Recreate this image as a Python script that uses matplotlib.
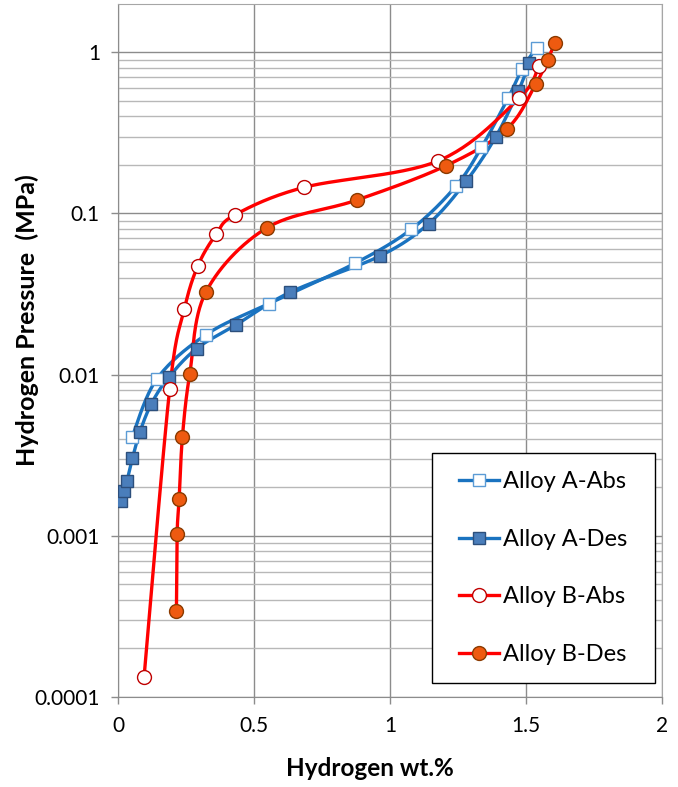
import numpy as np
import matplotlib
matplotlib.use("Agg")
import matplotlib.pyplot as plt
from matplotlib.patches import Rectangle
from matplotlib.ticker import LogLocator, FixedLocator, NullFormatter, FixedFormatter

plt.rcParams['font.family'] = ['Lato', 'DejaVu Sans']

# ---- data ----
a_abs_x = [0.052, 0.143, 0.324, 0.555, 0.871, 1.079, 1.242, 1.337, 1.435, 1.487, 1.540]
a_abs_y = [0.0041, 0.0094, 0.0177, 0.0276, 0.049, 0.0798, 0.147, 0.257, 0.52, 0.79, 1.07]

a_des_x = [0.010, 0.021, 0.033, 0.053, 0.080, 0.123, 0.186, 0.289, 0.433, 0.634, 0.963, 1.143, 1.280, 1.389, 1.473, 1.513]
a_des_y = [0.00165, 0.00191, 0.00219, 0.00302, 0.00438, 0.0066, 0.0096, 0.0145, 0.0203, 0.0325, 0.0544, 0.0865, 0.158, 0.298, 0.578, 0.86]

b_abs_x = [0.096, 0.190, 0.244, 0.294, 0.361, 0.430, 0.683, 1.178, 1.476, 1.548]
b_abs_y = [0.000133, 0.0081, 0.0254, 0.0474, 0.0742, 0.098, 0.145, 0.212, 0.52, 0.82]

b_des_x = [0.215, 0.2175, 0.225, 0.237, 0.264, 0.324, 0.547, 0.878, 1.207, 1.430, 1.537, 1.581, 1.607]
b_des_y = [0.00034, 0.00102, 0.0017, 0.0041, 0.0101, 0.0327, 0.0813, 0.121, 0.198, 0.334, 0.638, 0.90, 1.15]

labels = ["Alloy A-Abs", "Alloy A-Des", "Alloy B-Abs", "Alloy B-Des"]
x_ticks = [0, 0.5, 1, 1.5, 2]
x_tick_labels = ["0", "0.5", "1", "1.5", "2"]
y_ticks = [0.0001, 0.001, 0.01, 0.1, 1]
y_tick_labels = ["0.0001", "0.001", "0.01", "0.1", "1"]


def smooth(xs, ys, n=30):
    """Excel-style smoothed line (Catmull-Rom Bezier) in (x, log y) space."""
    P = np.column_stack([np.asarray(xs, float), np.log10(np.asarray(ys, float))])
    out = []
    m = len(P)
    for i in range(m - 1):
        p0 = P[i - 1] if i > 0 else P[i]
        p1 = P[i]
        p2 = P[i + 1]
        p3 = P[i + 2] if i + 2 < m else P[i + 1]
        c1 = p1 + (p2 - p0) / 6.0
        c2 = p2 - (p3 - p1) / 6.0
        t = np.linspace(0, 1, n)[:, None]
        seg = ((1 - t) ** 3) * p1 + 3 * ((1 - t) ** 2) * t * c1 + 3 * (1 - t) * t ** 2 * c2 + t ** 3 * p2
        out.append(seg if i == 0 else seg[1:])
    S = np.vstack(out)
    return S[:, 0], 10 ** S[:, 1]


fig = plt.figure(figsize=(6.78, 7.87), dpi=100)
ax = fig.add_axes([0.174, 0.1144, 0.802, 0.8806])
ax.set_yscale('log')
ax.set_xlim(0, 2)
ax.set_ylim(1e-4, 10 ** 0.30)

blue = '#1A73C0'
red = '#FF0000'

series = [
    (a_abs_x, a_abs_y, blue, 's', 'white', '#5B9BD5', 8),
    (a_des_x, a_des_y, blue, 's', '#4A7EBB', '#2C4F7C', 8),
    (b_abs_x, b_abs_y, red, 'o', 'white', '#C00000', 10),
    (b_des_x, b_des_y, red, 'o', '#EE5A10', '#8A3A00', 10),
]
handles = []
for (xs, ys, lc, mk, mfc, mec, ms), lab in zip(series, labels):
    sx, sy = smooth(xs, ys)
    ax.plot(sx, sy, color=lc, lw=2.4, zorder=3, solid_capstyle='round')
    ax.plot(xs, ys, linestyle='none', marker=mk, ms=ms, mfc=mfc, mec=mec, mew=1.0, zorder=4)
    h, = ax.plot([], [], color=lc, lw=2.4, marker=mk, ms=ms, mfc=mfc, mec=mec, mew=1.0)
    h.set_label(lab)
    handles.append(h)

# grid
ax.xaxis.set_major_locator(FixedLocator(x_ticks))
ax.xaxis.set_major_formatter(FixedFormatter(x_tick_labels))
ax.yaxis.set_major_locator(FixedLocator(y_ticks))
ax.yaxis.set_major_formatter(FixedFormatter(y_tick_labels))
ax.yaxis.set_minor_locator(LogLocator(base=10, subs=np.arange(2, 10), numticks=20))
ax.yaxis.set_minor_formatter(NullFormatter())
ax.grid(True, which='major', axis='both', color='#8C8C8C', lw=1.0, zorder=0)
ax.grid(True, which='minor', axis='y', color='#B8B8B8', lw=1.0, zorder=0)
ax.set_axisbelow(True)

for s in ['top', 'right']:
    ax.spines[s].set_color('#A6A6A6')
for s in ['left', 'bottom']:
    ax.spines[s].set_color('#8C8C8C')
ax.tick_params(axis='both', which='major', length=5, width=1, color='#8C8C8C',
               labelsize=15)
ax.tick_params(axis='y', which='major', pad=8)
ax.tick_params(axis='x', which='major', pad=9)
ax.tick_params(axis='y', which='minor', length=0)

fig.text(370 / 678, 1 - 768 / 787, 'Hydrogen wt.%', fontsize=17.5, fontweight='bold',
         ha='center', va='center')
fig.text(27 / 678, 1 - 320 / 787, 'Hydrogen Pressure  (MPa)', fontsize=18, fontweight='bold',
         ha='center', va='center', rotation=90)

# legend with its own frame
bx0, bx1 = 0.577, 0.987
by0, by1 = 0.020, 0.352
ax.add_patch(Rectangle((bx0, by0), bx1 - bx0, by1 - by0, transform=ax.transAxes,
                       facecolor='white', edgecolor='black', lw=1.0, zorder=5))
leg = ax.legend(handles=handles, loc='center', bbox_to_anchor=((bx0 + bx1) / 2, (by0 + by1) / 2),
                fontsize=17, frameon=False, borderpad=0, labelspacing=1.55,
                handlelength=1.7, handletextpad=0.2, borderaxespad=0)
leg.set_zorder(6)

fig.savefig('out.png', dpi=100)
